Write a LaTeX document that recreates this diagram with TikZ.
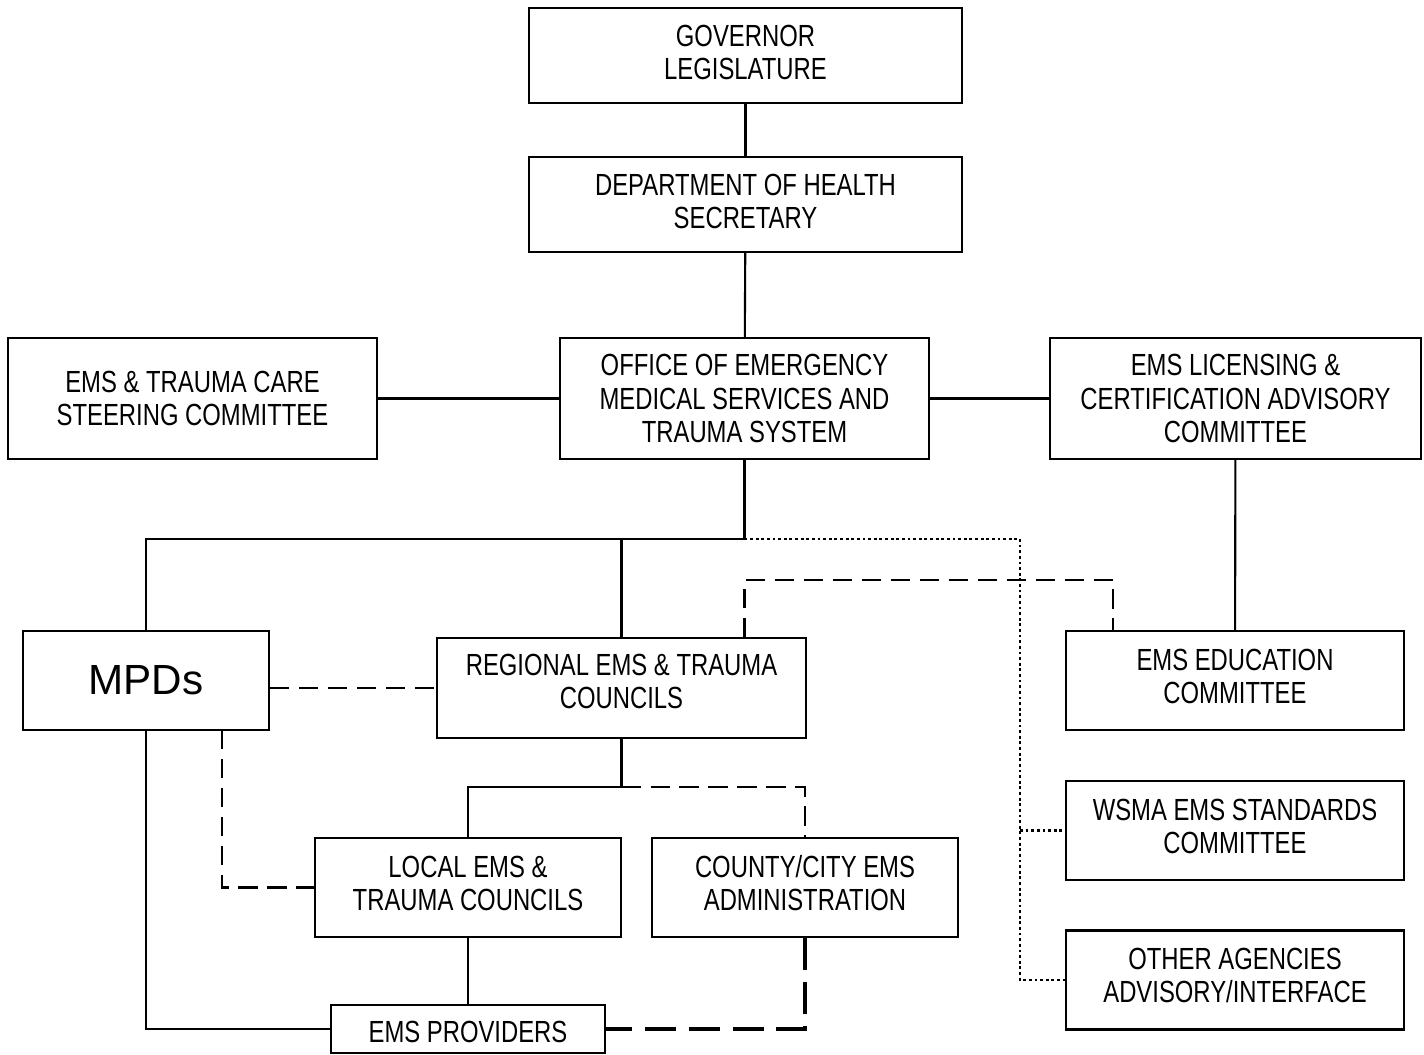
\documentclass[tikz,border=0pt]{standalone}
\usepackage{fontspec}
\setmainfont{Liberation Sans}[FakeStretch=0.78]
\newfontfamily\mpdfont{Liberation Sans}
\usepackage{tikz}
\newcommand{\liftby}[1]{\rule[-#1]{0pt}{#1}}
\tikzset{
    orgbox/.style={draw, line width=1.2pt, align=center, inner sep=0pt,
        font=\fontsize{17.4}{18.8}\selectfont},
    solidlink/.style={line width=1.2pt},
    dashlink/.style={line width=1.2pt, dash pattern=on 11pt off 5.5pt},
    thickdash/.style={line width=2.4pt, dash pattern=on 18pt off 7pt},
    dotlink/.style={line width=1.6pt, dash pattern=on 1.6pt off 1.6pt}
}
\begin{document}
\begin{tikzpicture}
            \useasboundingbox (0,0) rectangle (28.48,-21.1);
            % Top of the chain
            \foreach \name/\y/\txt in {gov/-1.11/{GOVERNOR\\LEGISLATURE},
                doh/-4.09/{DEPARTMENT OF HEALTH\\SECRETARY}} {
                \node[orgbox, minimum width=8.66cm, minimum height=1.9cm]
                (\name) at (14.91,\y) {\txt\liftby{4pt}};
            }
            % Office row
            \node[orgbox, minimum width=7.38cm, minimum height=2.42cm]
            (steer) at (3.85,-7.97) {EMS \& TRAUMA CARE\\STEERING COMMITTEE};
            \node[orgbox, minimum width=7.38cm, minimum height=2.42cm]
            (oems) at (14.89,-7.97) {OFFICE OF EMERGENCY\\MEDICAL SERVICES AND\\TRAUMA SYSTEM};
            \node[orgbox, minimum width=7.42cm, minimum height=2.42cm]
            (lic) at (24.71,-7.97) {EMS LICENSING \&\\CERTIFICATION ADVISORY\\COMMITTEE};
            % Committees on the right
            \foreach \name/\y/\txt in {edu/-13.61/{EMS EDUCATION\\COMMITTEE},
                wsma/-16.61/{WSMA EMS STANDARDS\\COMMITTEE},
                other/-19.60/{OTHER AGENCIES\\ADVISORY/INTERFACE}} {
                \node[orgbox, minimum width=6.76cm, minimum height=1.98cm]
                (\name) at (24.70,\y) {\txt\liftby{5pt}};
            }
            % Regional level
            \node[orgbox, minimum width=4.92cm, minimum height=1.98cm,
                font=\mpdfont\fontsize{24}{26}\selectfont]
            (mpd) at (2.92,-13.61) {MPDs};
            \node[orgbox, minimum width=7.38cm, minimum height=2cm]
            (reg) at (12.43,-13.76) {REGIONAL EMS \& TRAUMA\\COUNCILS\liftby{8pt}};
            % Local level
            \foreach \name/\x/\txt in {local/9.36/{LOCAL EMS \&\\TRAUMA COUNCILS},
                county/16.10/{COUNTY/CITY EMS\\ADMINISTRATION}} {
                \node[orgbox, minimum width=6.12cm, minimum height=1.98cm]
                (\name) at (\x,-17.75) {\txt\liftby{5pt}};
            }
            \node[orgbox, minimum width=5.48cm, minimum height=0.96cm]
            (prov) at (9.36,-20.58) {\rule{0pt}{15pt}EMS PROVIDERS};
            % Junctions
            \coordinate (jn) at (14.89,-10.78);
            \coordinate (dotx) at (20.4,-10.78);
            \coordinate (eduj) at (22.26,-11.6);
            \coordinate (rj) at (12.43,-15.74);
            \coordinate (mpdx) at (4.44,-14.6);
            % Solid lines
            \draw[solidlink] (gov) -- (doh);
            \draw[solidlink] (doh) -- (oems);
            \draw[solidlink] (steer) -- (oems);
            \draw[solidlink] (oems) -- (lic);
            \draw[solidlink] (lic) -- (edu);
            \draw[solidlink] (oems.south) -- (jn) -- (mpd.north |- jn) -- (mpd.north);
            \draw[solidlink] (reg.north |- jn) -- (reg.north);
            \draw[solidlink] (reg.south) -- (rj) -| (local.north);
            \draw[solidlink] (local) -- (prov);
            \draw[solidlink] (mpd.south) |- (prov.west);
            % Dashed lines
            \draw[dashlink] (oems.south |- reg.north) -- (oems.south |- eduj) -- (eduj) -- (edu.north -| eduj);
            \draw[dashlink] (mpd.east |- reg.west) -- (reg.west);
            \draw[dashlink] (mpdx) -- (mpdx |- local.west) -- (local.west);
            \draw[dashlink] (rj) -| (county.north);
            \draw[thickdash] (county.south) |- (prov.east);
            % Dotted lines
            \draw[dotlink] (jn) -- (dotx) -- (dotx |- other.west) -- (other.west);
            \draw[dotlink] (dotx |- wsma.west) -- (wsma.west);
        \end{tikzpicture}
\end{document}
